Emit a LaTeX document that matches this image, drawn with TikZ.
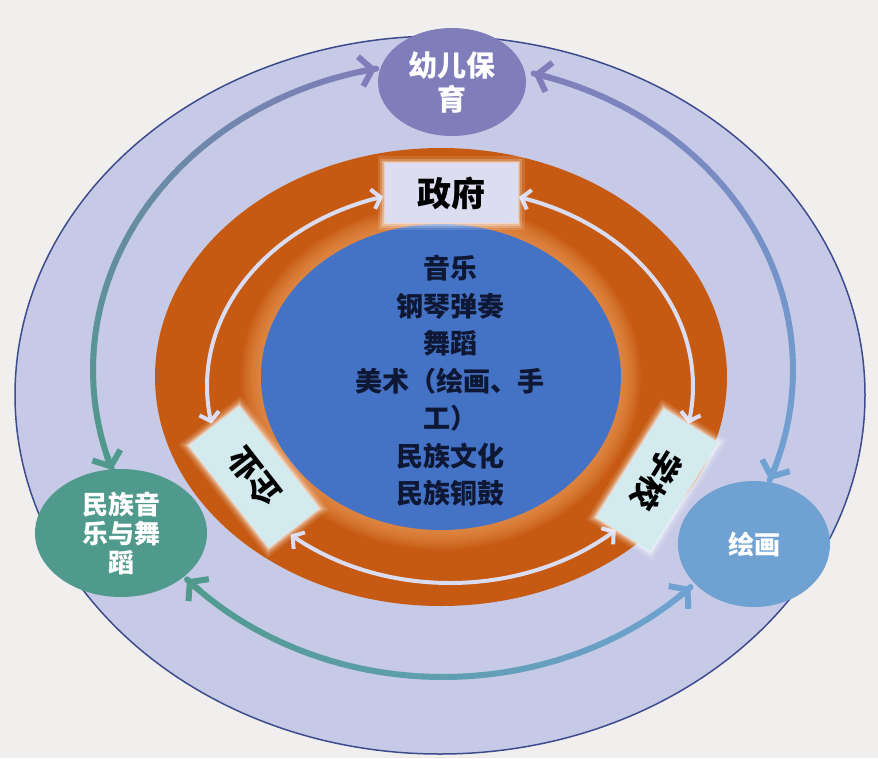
\documentclass[tikz,border=0pt]{standalone}
\usepackage{fontspec}
\newfontfamily\cjk{Noto Sans CJK SC}
\usetikzlibrary{shapes.geometric,arrows.meta}
\definecolor{bgc}{HTML}{F1EFED}
\definecolor{outerfill}{HTML}{C6CAE6}
\definecolor{outerline}{HTML}{3E4C8E}
\definecolor{orD}{HTML}{C65A12}
\definecolor{orL}{HTML}{F2A565}
\definecolor{coreblue}{HTML}{4472C4}
\definecolor{cpurp}{HTML}{7F7EBA}
\definecolor{cteal}{HTML}{4F9A8C}
\definecolor{cblue}{HTML}{6FA2D2}
\definecolor{arrowin}{HTML}{DADDF2}
\definecolor{boxA}{HTML}{DCDDF0}
\definecolor{boxB}{HTML}{D3EBEF}
\definecolor{textdark}{HTML}{0E1733}
% gradient elliptic arc: cx cy rx ry t1 t2 colA colB N
\newcommand\gradarc[9]{%
  \foreach \gk in {1,...,#9}{%
    \pgfmathsetmacro\gaA{#5+(#6-#5)*(\gk-1)/#9}%
    \pgfmathsetmacro\gaB{#5+(#6-#5)*\gk/#9}%
    \pgfmathtruncatemacro\gaP{100-100*(\gk-0.5)/#9}%
    \draw[outarc, color=#7!\gaP!#8] plot[domain=\gaA:\gaB, samples=4] ({#1+#3*cos(\x)},{#2+#4*sin(\x)});
  }%
  \pgfmathsetmacro\gaS{#5+(#6-#5)*0.03}%
  \pgfmathsetmacro\gaE{#6-(#6-#5)*0.03}%
  \draw[outarc, color=#7, -{Straight Barb[length=12pt,width=30pt]}] plot[domain=\gaS:#5, samples=4] ({#1+#3*cos(\x)},{#2+#4*sin(\x)});
  \draw[outarc, color=#8, -{Straight Barb[length=12pt,width=30pt]}] plot[domain=\gaE:#6, samples=4] ({#1+#3*cos(\x)},{#2+#4*sin(\x)});
}
\begin{document}
\begin{tikzpicture}[x=1pt,y=-1pt,
  outarc/.style={line width=6pt, line cap=round},
  inarc/.style={draw=arrowin, line width=4pt, line cap=round, {Straight Barb[length=8pt,width=20pt]}-{Straight Barb[length=8pt,width=20pt]}},
  disc/.style={ellipse, inner sep=0pt, text=white, align=center},
  glowbox/.style={rectangle, inner sep=0pt, align=center, text=black,
    preaction={draw=white, line width=14pt, opacity=0.12},
    preaction={draw=white, line width=9pt, opacity=0.2},
    preaction={draw=white, line width=5pt, opacity=0.3},
    preaction={draw=white, line width=2pt, opacity=0.4}}]
\fill[bgc] (0,0) rectangle (878,758);
\useasboundingbox (0,0) rectangle (878,758);

% big ellipses
\node[ellipse, draw=outerline, line width=1.5pt, fill=outerfill, minimum width=850pt, minimum height=718pt, inner sep=0pt] (outer) at (440,395) {};
\node[ellipse, fill=orD, minimum width=572pt, minimum height=458pt, inner sep=0pt] (ring) at (441,377) {};
\foreach \w in {40,37,...,4}
  \draw[orL, line width=\w pt, opacity=0.07] (ring.center) ellipse[x radius=180pt, y radius=153pt];
\node[ellipse, fill=coreblue, minimum width=360pt, minimum height=306pt, inner sep=0pt] (core) at (441,377) {};

% outer gradient arrows
\gradarc{443}{370}{350}{307}{259}{161}{cpurp}{cteal}{40}
\gradarc{443}{370}{350}{307}{285}{381}{cpurp}{cblue}{40}
\gradarc{443}{370}{350}{307}{137}{45}{cteal}{cblue}{40}

% inner arrows
\draw[inarc] plot[smooth, domain=254:169, samples=40] ({450+243*cos(\x)},{386+197*sin(\x)});
\draw[inarc] plot[smooth, domain=286.5:371, samples=40] ({450+243*cos(\x)},{386+197*sin(\x)});
\draw[inarc] plot[smooth, domain=131:47, samples=40] ({450+243*cos(\x)},{386+197*sin(\x)});

% center text
\node[text=textdark, font=\cjk\bfseries\fontsize{27}{37.5}\selectfont, align=center] (coretext) at (450,381)
  {音乐\\钢琴弹奏\\舞蹈\\美术（绘画、手\\工）\\民族文化\\民族铜鼓};

% circles
\node[disc, fill=cpurp, minimum width=148pt, minimum height=108pt, font=\cjk\bfseries\fontsize{29}{34}\selectfont] (care) at (452,82) {幼儿保\\育};
\node[disc, fill=cteal, minimum width=172pt, minimum height=128pt, font=\cjk\bfseries\fontsize{26}{29}\selectfont] (folk) at (121,533) {民族音\\乐与舞\\蹈};
\node[disc, fill=cblue, minimum width=152pt, minimum height=126pt, font=\cjk\bfseries\fontsize{26}{30}\selectfont] (paint) at (754,544) {绘画};

% boxes
\node[glowbox, fill=boxA, minimum width=133pt, minimum height=60pt, font=\cjk\bfseries\fontsize{34}{38}\selectfont] (gov) at (451,193) {政府};
\node[glowbox, fill=boxB, minimum width=130pt, minimum height=64pt, rotate=128, font=\cjk\bfseries\fontsize{32}{36}\selectfont] (ent) at (254,477) {企业};
\node[glowbox, fill=boxB, minimum width=128pt, minimum height=64pt, rotate=-122, font=\cjk\bfseries\fontsize{32}{36}\selectfont] (school) at (657,480) {学校};
\end{tikzpicture}
\end{document}
